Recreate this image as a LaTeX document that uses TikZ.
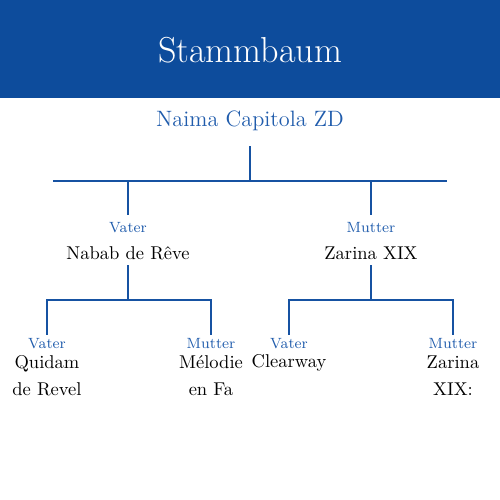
\documentclass[tikz,border=0pt]{standalone}
\usepackage{tikz}
\definecolor{headblue}{RGB}{13,76,156}
\definecolor{linkblue}{RGB}{22,82,162}
\definecolor{rolblue}{RGB}{32,92,172}

\begin{document}
\begin{tikzpicture}[x=0.54pt, y=-0.54pt,
    tree/.style={draw=linkblue, line width=1.1pt},
    person/.style={font=\normalsize, text=black, align=center, inner sep=0pt},
    role/.style={font=\footnotesize, text=rolblue, inner sep=0pt}]
    \useasboundingbox (0,0) rectangle (500,500);

    % Header band
    \fill[headblue] (0,0) rectangle (500,98);
    \node[text=white, font=\fontsize{19.5}{23}\selectfont] (title) at (250,50) {Stammbaum};

    % Root
    \node[text=rolblue, font=\large, inner sep=0pt, minimum height=27pt] (naima) at (250,121) {Naima Capitola ZD};
    \coordinate (barL) at (53,181);
    \coordinate (barR) at (447,181);

    % Parents
    \node[role, minimum height=14pt] (vater) at (128,228) {Vater};
    \node[role, minimum height=14pt] (mutter) at (371,228) {Mutter};
    \node[person, minimum height=13pt] (nabab) at (128,253) {Nabab de Rêve};
    \node[person, minimum height=13pt] (zarina) at (371,253) {Zarina XIX};

    \draw[tree] (barL) -- (barR);
    \draw[tree] (naima.south) -- (naima |- barL);
    \draw[tree] (vater.north) -- (vater |- barL);
    \draw[tree] (mutter.north) -- (mutter |- barL);

    % Grandparents, father's side
    \coordinate (jA) at (128,300);
    \node[role, minimum height=9.7pt] (vaterA) at (47,344) {Vater};
    \node[role, minimum height=9.7pt] (mutterA) at (211,344) {Mutter};
    \node[person] (quidam) at (47,376) {Quidam\\[2.5pt]de Revel};
    \node[person] (melodie) at (211,376) {Mélodie\\[2.5pt]en Fa};
    \draw[tree] (nabab.south) -- (jA);
    \draw[tree] (vaterA.north) |- (jA) -| (mutterA.north);

    % Grandparents, mother's side
    \coordinate (jB) at (371,300);
    \node[role, minimum height=9.7pt] (vaterB) at (289,344) {Vater};
    \node[role, minimum height=9.7pt] (mutterB) at (453,344) {Mutter};
    \node[person] (clearway) at (289,363) {Clearway};
    \node[person] (zarinaB) at (453,376) {Zarina\\[2.5pt]XIX:};
    \draw[tree] (zarina.south) -- (jB);
    \draw[tree] (vaterB.north) |- (jB) -| (mutterB.north);
\end{tikzpicture}
\end{document}
